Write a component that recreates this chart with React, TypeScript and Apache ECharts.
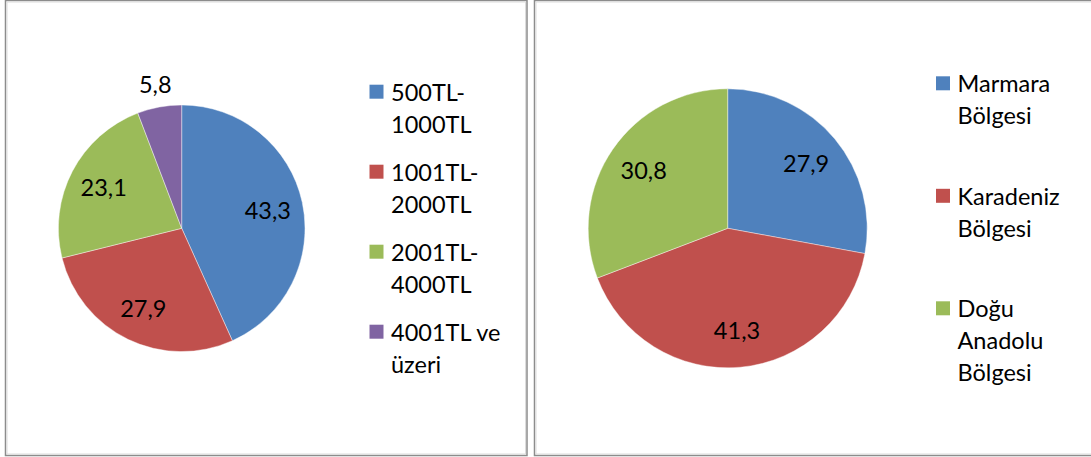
import React, { useEffect, useRef } from "react";
import * as echarts from "echarts";

// ---- data ----
const incomeCategories = ["500TL-\n1000TL", "1001TL-\n2000TL", "2001TL-\n4000TL", "4001TL ve\nüzeri"];
const incomeValues = [43.3, 27.9, 23.1, 5.8];
const incomeLabelOutside = [false, false, false, true];

const regionCategories = ["Marmara\nBölgesi", "Karadeniz\nBölgesi", "Doğu\nAnadolu\nBölgesi"];
const regionValues = [27.9, 41.3, 30.8];

const sliceColors = ["#4F81BD", "#C0504D", "#9BBB59", "#8064A2"];

// ---- style / layout ----
const FONT = "Lato, 'Open Sans', sans-serif";
const FS = 23.5;
const LH = 32;

const leftCenter = [181.7, 228.3];
const leftR = 123.3;
const rightCenter = [727.7, 228.3];
const rightR = 139.5;

const fmt = (v: number) => v.toFixed(1).replace(".", ",");

function legendGraphics(cats: string[], x: number, firstCenter: number, gap: number) {
  const els: any[] = [];
  let c = firstCenter;
  cats.forEach((name, i) => {
    els.push({
      type: "rect",
      shape: { x, y: c - 7, width: 14, height: 14 },
      style: { fill: sliceColors[i] },
      silent: true,
    });
    els.push({
      type: "text",
      x: x + 21.5,
      y: c - LH / 2,
      style: {
        text: name,
        fontSize: FS,
        fontFamily: FONT,
        fill: "#000",
        lineHeight: LH,
        verticalAlign: "top",
        align: "left",
      },
      silent: true,
    });
    const lines = name.split("\n").length;
    c += lines * LH + gap;
  });
  return els;
}

function visiblePie(center: number[], r: number, values: number[], cats: string[]) {
  return {
    type: "pie",
    center,
    radius: r,
    startAngle: 90,
    clockwise: true,
    silent: true,
    avoidLabelOverlap: false,
    label: { show: false },
    labelLine: { show: false },
    emphasis: { disabled: true },
    itemStyle: { borderColor: "rgba(255,255,255,0.7)", borderWidth: 0.6 },
    data: values.map((v, i) => ({ value: v, name: cats[i], itemStyle: { color: sliceColors[i] } })),
  };
}

function labelPie(center: number[], radius: any, values: number[], cats: string[], showMask: boolean[]) {
  return {
    type: "pie",
    center,
    radius,
    startAngle: 90,
    clockwise: true,
    silent: true,
    avoidLabelOverlap: false,
    emphasis: { disabled: true },
    labelLine: { show: false },
    itemStyle: { color: "rgba(0,0,0,0)", borderWidth: 0 },
    label: {
      show: true,
      position: "inside",
      formatter: (p: any) => fmt(p.value),
      fontSize: FS,
      fontFamily: FONT,
      color: "#000",
      padding: [6, 0, 0, 0],
    },
    data: values.map((v, i) => ({
      value: v,
      name: cats[i],
      label: { show: showMask[i] },
    })),
  };
}

export default function App() {
  const ref = useRef<HTMLDivElement>(null);
  useEffect(() => {
    if (!ref.current) return;
    const chart = echarts.init(ref.current, undefined, { renderer: "svg" });
    const option: any = {
      animation: false,
      backgroundColor: "#fff",
      textStyle: { fontFamily: FONT },
      graphic: [
        // panel borders
        { type: "rect", shape: { x: 5.5, y: 0.5, width: 521.5, height: 455 }, style: { fill: "none", stroke: "#8c8c8c", lineWidth: 1.5 }, silent: true },
        { type: "rect", shape: { x: 7, y: 2, width: 518.5, height: 452 }, style: { fill: "none", stroke: "#dcdcdc", lineWidth: 1 }, silent: true },
        { type: "rect", shape: { x: 534.5, y: 0.5, width: 600, height: 455 }, style: { fill: "none", stroke: "#8c8c8c", lineWidth: 1.5 }, silent: true },
        { type: "rect", shape: { x: 536, y: 2, width: 600, height: 452 }, style: { fill: "none", stroke: "#dcdcdc", lineWidth: 1 }, silent: true },
        ...legendGraphics(incomeCategories, 369.5, 91.7, 16),
        ...legendGraphics(regionCategories, 936, 83.3, 48.5),
      ],
      series: [
        visiblePie(leftCenter, leftR, incomeValues, incomeCategories),
        visiblePie(rightCenter, rightR, regionValues, regionCategories),
        labelPie(leftCenter, [0, leftR * 1.38], incomeValues, incomeCategories, incomeLabelOutside.map((o) => !o)),
        labelPie(leftCenter, [leftR + 7, leftR + 33], incomeValues, incomeCategories, incomeLabelOutside),
        labelPie(rightCenter, [0, rightR * 1.42], regionValues, regionCategories, regionValues.map(() => true)),
      ],
    };
    chart.setOption(option);
    return () => chart.dispose();
  }, []);
  return (
    <div
      ref={ref}
      style={{ position: "fixed", left: 0, top: 0, width: 1091, height: 457, background: "#fff" }}
    />
  );
}
